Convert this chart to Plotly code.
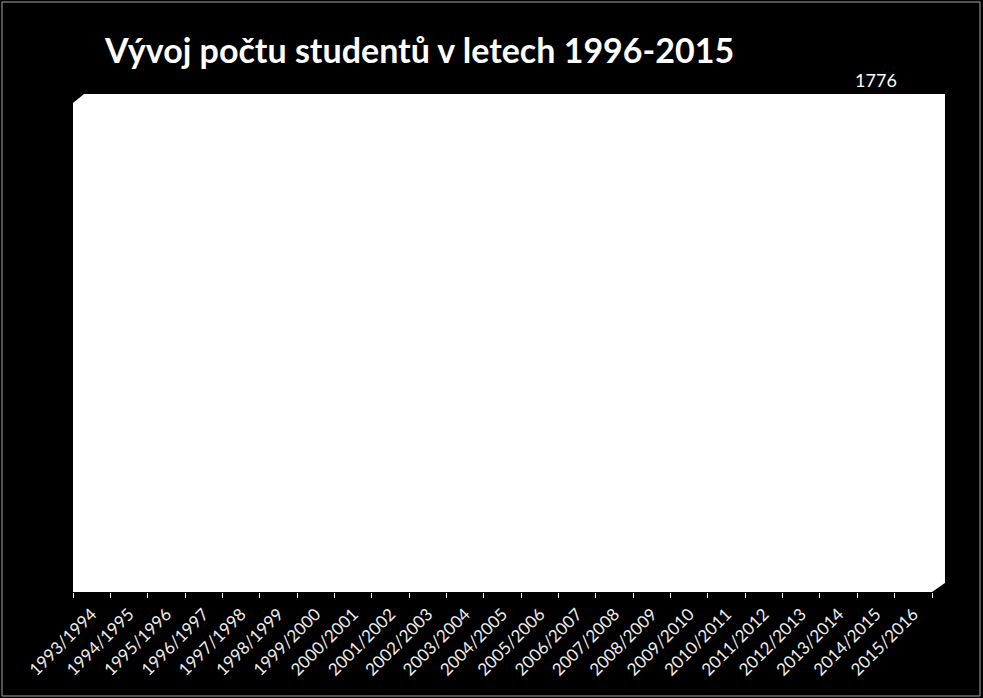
import plotly.graph_objects as go

# academic years on the category axis
years = ['1993/1994', '1994/1995', '1995/1996', '1996/1997', '1997/1998', '1998/1999',
         '1999/2000', '2000/2001', '2001/2002', '2002/2003', '2003/2004', '2004/2005',
         '2005/2006', '2006/2007', '2007/2008', '2008/2009', '2009/2010', '2010/2011',
         '2011/2012', '2012/2013', '2013/2014', '2014/2015', '2015/2016']
# only the labelled value is readable, the white columns vanish on the white wall
students = [None] * 21 + [1776, None]
labels = ['' if v is None else str(v) for v in students]

title_text = 'Vývoj počtu studentů v letech 1996-2015'

fig = go.Figure()
fig.add_trace(go.Bar(x=years, y=students, text=labels,
                     textposition='outside', cliponaxis=False, constraintext='none',
                     textfont=dict(color='white', size=18, family='Lato'),
                     marker=dict(color='white', line=dict(width=0)),
                     width=0.6, showlegend=False))

# white back wall of the 3D plot with its slanted corners
wall = ('M 0 0 L 0 0.982 L 0.0128 1 L 1.0151 1 L 1.0151 0.018 L 1 0 Z')
fig.add_shape(type='path', path=wall, xref='paper', yref='paper',
              fillcolor='white', line=dict(width=0), layer='below')
# thin frame around the picture
fig.add_shape(type='rect', xref='paper', yref='paper',
              x0=-71 / 859, x1=(980 - 73) / 859, y0=-104 / 498, y1=(592 - 2) / 498,
              line=dict(color='#a6a6a6', width=1), fillcolor='rgba(0,0,0,0)')

fig.update_layout(
    width=983, height=698,
    margin=dict(l=73, r=51, t=94, b=106),
    paper_bgcolor='black', plot_bgcolor='rgba(0,0,0,0)',
    title=dict(text='<b>' + title_text + '</b>', x=105 / 983, xanchor='left',
               y=1 - 51 / 698, yanchor='middle', xref='container', yref='container',
               font=dict(family='Lato', size=34, color='white')),
    bargap=0.4,
)
fig.update_xaxes(type='category', tickangle=-45, ticks='outside', tickson='boundaries',
                 ticklen=5, tickcolor='white', showline=False, showgrid=False,
                 ticklabelstandoff=8,
                 tickfont=dict(family='Lato', size=17, color='#ededed'))
fig.update_yaxes(range=[0, 1776], visible=False, showgrid=False)

fig.write_html('out.html', config={'displayModeBar': False},
               post_script="document.body.style.margin='0';")
